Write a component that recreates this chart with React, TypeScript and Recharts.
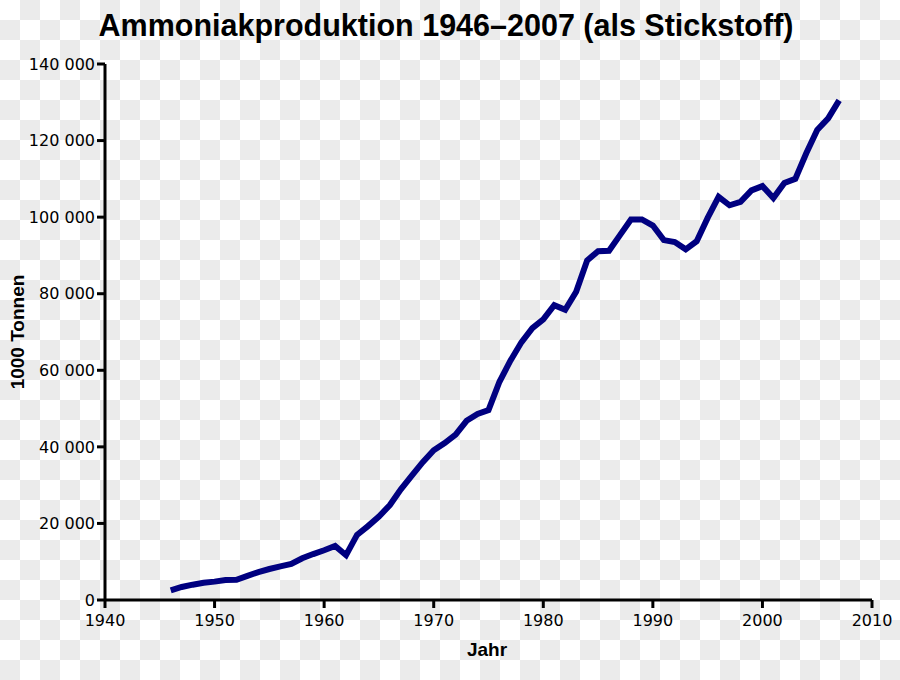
import { CartesianGrid, Line, LineChart, XAxis, YAxis } from "recharts";

const years = [
  1946, 1947, 1948, 1949, 1950, 1951, 1952, 1953, 1954, 1955, 1956, 1957, 1958, 1959, 1960, 1961,
  1962, 1963, 1964, 1965, 1966, 1967, 1968, 1969, 1970, 1971, 1972, 1973, 1974, 1975, 1976, 1977,
  1978, 1979, 1980, 1981, 1982, 1983, 1984, 1985, 1986, 1987, 1988, 1989, 1990, 1991, 1992, 1993,
  1994, 1995, 1996, 1997, 1998, 1999, 2000, 2001, 2002, 2003, 2004, 2005, 2006, 2007,
];

// 1000 Tonnen (als Stickstoff)
const production = [
  2500, 3400, 4000, 4500, 4800, 5200, 5300, 6300, 7300, 8100, 8800, 9400, 10900, 12000, 13000, 14100,
  11700, 17000, 19300, 21800, 24800, 28900, 32500, 36000, 39100, 41000, 43200, 46800, 48600, 49600, 57000, 62500,
  67300, 71000, 73300, 77000, 75800, 80500, 88700, 91100, 91200, 95300, 99400, 99400, 97800, 94000, 93500, 91600,
  93700, 99800, 105300, 103100, 104000, 107000, 108100, 105000, 108900, 110000, 116700, 122800, 125800, 130500,
];

const xTicks = [1940, 1950, 1960, 1970, 1980, 1990, 2000, 2010];
const yTicks = [0, 20000, 40000, 60000, 80000, 100000, 120000, 140000];

const data = years.map((year, i) => ({ year, value: production[i] }));

const fmt = (v: number) => v.toLocaleString("en-US").replace(/,/g, " ");

const tickStyle = { fontFamily: "DejaVu Sans", fontSize: 16, fill: "#000" };
const axisStroke = { stroke: "#000", strokeWidth: 3 };
const labelFont = "'Liberation Sans', Arial, sans-serif";

export default function App() {
  return (
    <div
      style={{
        position: "absolute",
        left: 0,
        top: 0,
        width: 900,
        height: 680,
        backgroundColor: "#fff",
        backgroundImage: "repeating-conic-gradient(#ebebeb 0 25%, #fff 0 50%)",
        backgroundSize: "40px 40px",
        overflow: "hidden",
      }}
    >
      <div
        style={{
          position: "absolute",
          left: 0,
          top: 10,
          width: 892,
          textAlign: "center",
          fontFamily: labelFont,
          fontWeight: "bold",
          fontSize: 30.5,
          lineHeight: "30px",
          color: "#000",
        }}
      >
        Ammoniakproduktion 1946–2007 (als Stickstoff)
      </div>
      <div
        style={{
          position: "absolute",
          left: 487,
          top: 650,
          transform: "translate(-50%, -50%)",
          fontFamily: labelFont,
          fontWeight: "bold",
          fontSize: 19,
          color: "#000",
        }}
      >
        Jahr
      </div>
      <div
        style={{
          position: "absolute",
          left: 18,
          top: 332,
          transform: "translate(-50%, -50%) rotate(-90deg)",
          whiteSpace: "nowrap",
          fontFamily: labelFont,
          fontWeight: "bold",
          fontSize: 19,
          color: "#000",
        }}
      >
        1000 Tonnen
      </div>
      <LineChart
        width={900}
        height={680}
        data={data}
        margin={{ top: 64, right: 28, bottom: 50, left: 5 }}
        style={{ position: "absolute", left: 0, top: 0 }}
      >
        <CartesianGrid stroke="none" fill="none" />
        <XAxis
          type="number"
          dataKey="year"
          domain={[1940, 2010]}
          ticks={xTicks}
          height={30}
          tickSize={8}
          tickMargin={7}
          tick={tickStyle}
          axisLine={axisStroke}
          tickLine={axisStroke}
        />
        <YAxis
          type="number"
          domain={[0, 140000]}
          ticks={yTicks}
          width={100}
          tickSize={8}
          tickMargin={2}
          tick={tickStyle}
          tickFormatter={fmt}
          axisLine={axisStroke}
          tickLine={axisStroke}
        />
        <Line
          type="linear"
          dataKey="value"
          stroke="#000080"
          strokeWidth={6}
          dot={false}
          isAnimationActive={false}
        />
      </LineChart>
    </div>
  );
}
